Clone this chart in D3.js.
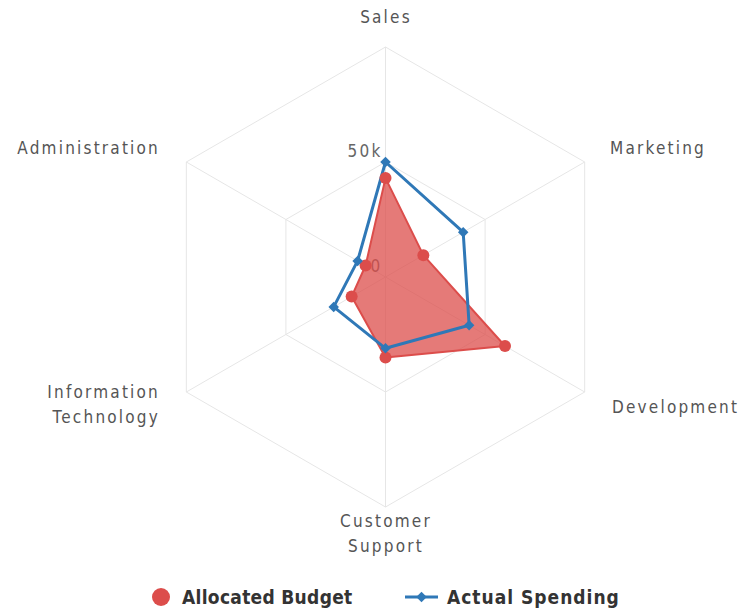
<!DOCTYPE html>
<html><head><meta charset="utf-8">
<script src="https://cdn.jsdelivr.net/npm/d3@7"></script>
<style>body{margin:0;background:#fff}svg{display:block}</style>
</head><body><svg id="c" width="744" height="613"></svg>
<script>
const categories = ["Sales","Marketing","Development","Customer Support","Information Technology","Administration"];
const allocatedBudget = [43000, 19000, 60000, 35000, 17000, 10000];
const actualSpending = [50000, 39000, 42000, 31000, 26000, 14000];
const gridTicks = [0, 50000, 100000];
const tickLabels = ["0", "50k"];
const seriesNames = ["Allocated Budget", "Actual Spending"];

const svg = d3.select("#c");
const cx = 385.5, cy = 277, R = 230;
const font = "'DejaVu Sans Condensed','DejaVu Sans',sans-serif";
const r = d3.scaleLinear().domain([0, 100000]).range([0, R]);
const ang = d3.scalePoint().domain(categories.concat(["_"])).range([0, 2*Math.PI]);
const pt = (c, v) => { const a = ang(c); return [cx + r(v)*Math.sin(a), cy - r(v)*Math.cos(a)]; };

const g = svg.append("g");
gridTicks.filter(t => t > 0).forEach(t => {
  g.append("path").attr("d", d3.line()(categories.map(c => pt(c, t))) + "Z")
    .attr("fill", "none").attr("stroke", "#e6e6e6").attr("stroke-width", 1);
});
categories.forEach(c => {
  const p = pt(c, 100000);
  g.append("line").attr("x1", cx).attr("y1", cy).attr("x2", p[0]).attr("y2", p[1])
    .attr("stroke", "#e6e6e6").attr("stroke-width", 1);
});
tickLabels.forEach((l, i) => {
  g.append("text").attr("x", cx - 3).attr("y", cy - r(gridTicks[i]) - 5)
    .attr("text-anchor", "end").attr("font-family", font).attr("font-size", 17)
    .attr("letter-spacing", 2.2).attr("fill", "#666").text(l);
});
const labelPos = [
  {x: 386, y: 23, a: "middle"},
  {x: 610, y: 154, a: "start"},
  {x: 612, y: 413, a: "start"},
  {x: 386, y: 527, a: "middle"},
  {x: 160, y: 398, a: "end"},
  {x: 160, y: 154, a: "end"}
];
const labelLines = {"Customer Support": ["Customer","Support"], "Information Technology": ["Information","Technology"]};
categories.forEach((c, i) => {
  const lp = labelPos[i];
  const lines = labelLines[c] || [c];
  const t = g.append("text").attr("text-anchor", lp.a).attr("font-family", font)
    .attr("font-size", 17).attr("letter-spacing", 2.2).attr("fill", "#555");
  lines.forEach((ln, j) => t.append("tspan").attr("x", lp.x).attr("y", lp.y + j*25).text(ln));
});

const red = "#dc4d4b", blue = "#2f78b7";
const aPts = categories.map((c, i) => pt(c, allocatedBudget[i]));
g.append("path").attr("d", d3.line()(aPts) + "Z").attr("fill", red).attr("fill-opacity", 0.75)
  .attr("stroke", red).attr("stroke-width", 2).attr("stroke-linejoin", "round");
const sPts = categories.map((c, i) => pt(c, actualSpending[i]));
g.append("path").attr("d", d3.line()(sPts) + "Z").attr("fill", "none")
  .attr("stroke", blue).attr("stroke-width", 3).attr("stroke-linejoin", "round");
aPts.forEach(p => g.append("circle").attr("cx", p[0]).attr("cy", p[1]).attr("r", 6).attr("fill", red));
const diamond = d3.symbol().type(d3.symbolDiamond2).size(70);
sPts.forEach(p => g.append("path").attr("d", diamond).attr("transform", `translate(${p[0]},${p[1]})`).attr("fill", blue));

const lg = svg.append("g");
lg.append("circle").attr("cx", 161).attr("cy", 597).attr("r", 9).attr("fill", red);
lg.append("text").attr("x", 182).attr("y", 604).attr("font-family", font).attr("font-size", 19)
  .attr("font-weight", "bold").attr("letter-spacing", 0.3).attr("fill", "#333").text(seriesNames[0]);
lg.append("line").attr("x1", 405).attr("x2", 438).attr("y1", 597).attr("y2", 597).attr("stroke", blue).attr("stroke-width", 3);
lg.append("path").attr("d", diamond).attr("transform", "translate(421.5,597)").attr("fill", blue);
lg.append("text").attr("x", 447).attr("y", 604).attr("font-family", font).attr("font-size", 19)
  .attr("font-weight", "bold").attr("letter-spacing", 1).attr("fill", "#333").text(seriesNames[1]);
</script></body></html>
